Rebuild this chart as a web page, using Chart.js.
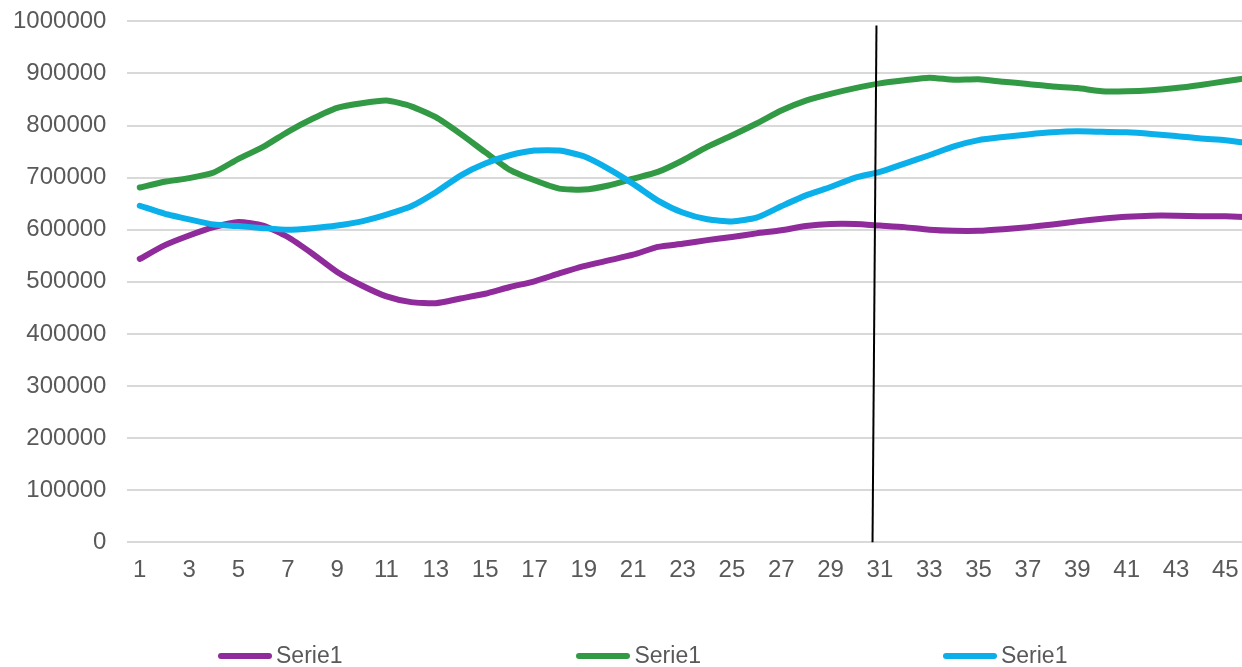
<!DOCTYPE html>
<html>
<head>
<meta charset="utf-8">
<script src="https://cdn.jsdelivr.net/npm/chart.js@4"></script>
<style>
    body { margin: 0; width: 1242px; height: 667px; overflow: hidden; background: #fff; position: relative; }
    #wrap { position: absolute; left: -23px; top: -14px; width: 1287px; height: 681px; }
    #legend { position: absolute; left: 218px; top: 642px; display: flex; font-family: "Liberation Sans", Arial, sans-serif; font-size: 23px; color: #595959; }
    .item { display: flex; align-items: center; }
    .item:nth-child(2) { margin-left: 234px; }
    .item:nth-child(3) { margin-left: 242px; }
    .swatch { width: 54px; height: 6px; border-radius: 3px; margin-right: 4px; }
</style>
</head>
<body>
<div id="wrap"><canvas id="chart"></canvas></div>
<div id="legend"></div>
<script>
// Categories (1..46, the last one runs off the right edge)
const labels = [];
for (var i = 1; i <= 46; i++) labels.push(String(i));

// Series values
const purple_data = [544000, 570000, 589000, 605000, 615000, 608000, 586000, 554000, 519000, 493000,
    472000, 461000, 459000, 468000, 477000, 490000, 501000, 516000, 530000, 541000,
    552000, 567000, 573000, 580000, 586000, 593000, 599000, 607000, 611000, 611000,
    608000, 605000, 600000, 598000, 598000, 601000, 605000, 610000, 616000, 621000,
    625000, 627000, 627000, 626000, 626000, 624000];
const green_data = [681000, 692000, 699000, 710000, 736000, 759000, 788000, 813000, 834000, 843000,
    848000, 837000, 816000, 784000, 749000, 715000, 695000, 679000, 677000, 685000,
    698000, 711000, 733000, 759000, 781000, 804000, 829000, 848000, 861000, 872000,
    881000, 887000, 892000, 888000, 889000, 884000, 880000, 875000, 872000, 866000,
    866000, 868000, 872000, 878000, 885000, 892000];
const blue_data = [646000, 631000, 620000, 610000, 607000, 603000, 600000, 603000, 608000, 616000,
    629000, 645000, 672000, 704000, 727000, 743000, 752000, 752000, 741000, 717000,
    688000, 656000, 633000, 620000, 616000, 623000, 645000, 666000, 682000, 700000,
    711000, 727000, 743000, 760000, 772000, 778000, 783000, 787000, 789000, 788000,
    787000, 784000, 780000, 775000, 772000, 766000];

const series_names = ["Serie1", "Serie1", "Serie1"];

// Hand drawn marker line (category index, value)
const marker_top = { x: 29.86, y: 992000 };
const marker_bottom = { x: 29.7, y: 0 };

const COLORS = ["#8f2b9a", "#329a45", "#0bafea"];
const TEXT = "#595959";
const FONT = "'Liberation Sans', Arial, sans-serif";

// Legend built in html so the items can be spread out like the original
var legend = document.getElementById("legend");
for (var i = 0; i < series_names.length; i++) {
    var item = document.createElement("div");
    item.className = "item";
    item.innerHTML = '<span class="swatch" style="background:' + COLORS[i] + '"></span><span>' + series_names[i] + '</span>';
    legend.appendChild(item);
}

const markerLine = {
    id: "markerLine",
    afterDatasetsDraw(chart) {
        var ctx = chart.ctx;
        var xs = chart.scales.x, ys = chart.scales.y;
        ctx.save();
        ctx.strokeStyle = "#000000";
        ctx.lineWidth = 2;
        ctx.beginPath();
        ctx.moveTo(xs.getPixelForValue(marker_top.x), ys.getPixelForValue(marker_top.y));
        ctx.lineTo(xs.getPixelForValue(marker_bottom.x), ys.getPixelForValue(marker_bottom.y));
        ctx.stroke();
        ctx.restore();
    }
};

function line(name, data, color, order) {
    return {
        label: name,
        data: data,
        borderColor: color,
        backgroundColor: color,
        borderWidth: 6,
        pointRadius: 0,
        tension: 0.2,
        borderCapStyle: "round",
        borderJoinStyle: "round",
        fill: false,
        order: order
    };
}

new Chart(document.getElementById("chart"), {
    type: "line",
    data: {
        labels: labels,
        datasets: [
            line(series_names[0], purple_data, COLORS[0], 3),
            line(series_names[1], green_data, COLORS[1], 2),
            line(series_names[2], blue_data, COLORS[2], 1)
        ]
    },
    options: {
        responsive: true,
        maintainAspectRatio: false,
        animation: false,
        layout: { padding: { left: 15, right: 0, top: 7, bottom: 68 } },
        plugins: {
            legend: { display: false },
            tooltip: { enabled: false }
        },
        scales: {
            x: {
                offset: true,
                grid: { display: false, drawTicks: false },
                border: { display: false },
                ticks: {
                    autoSkip: false,
                    maxRotation: 0,
                    padding: 14,
                    color: TEXT,
                    font: { family: FONT, size: 24 },
                    callback: function (v, idx) { return idx % 2 == 0 ? labels[idx] : ""; }
                }
            },
            y: {
                min: 0,
                max: 1000000,
                ticks: {
                    stepSize: 100000,
                    padding: 21,
                    color: TEXT,
                    font: { family: FONT, size: 24 },
                    callback: function (v) { return String(v); }
                },
                grid: { color: "#d9d9d9", lineWidth: 2, drawTicks: false },
                border: { display: false }
            }
        }
    },
    plugins: [markerLine]
});
</script>
</body>
</html>
